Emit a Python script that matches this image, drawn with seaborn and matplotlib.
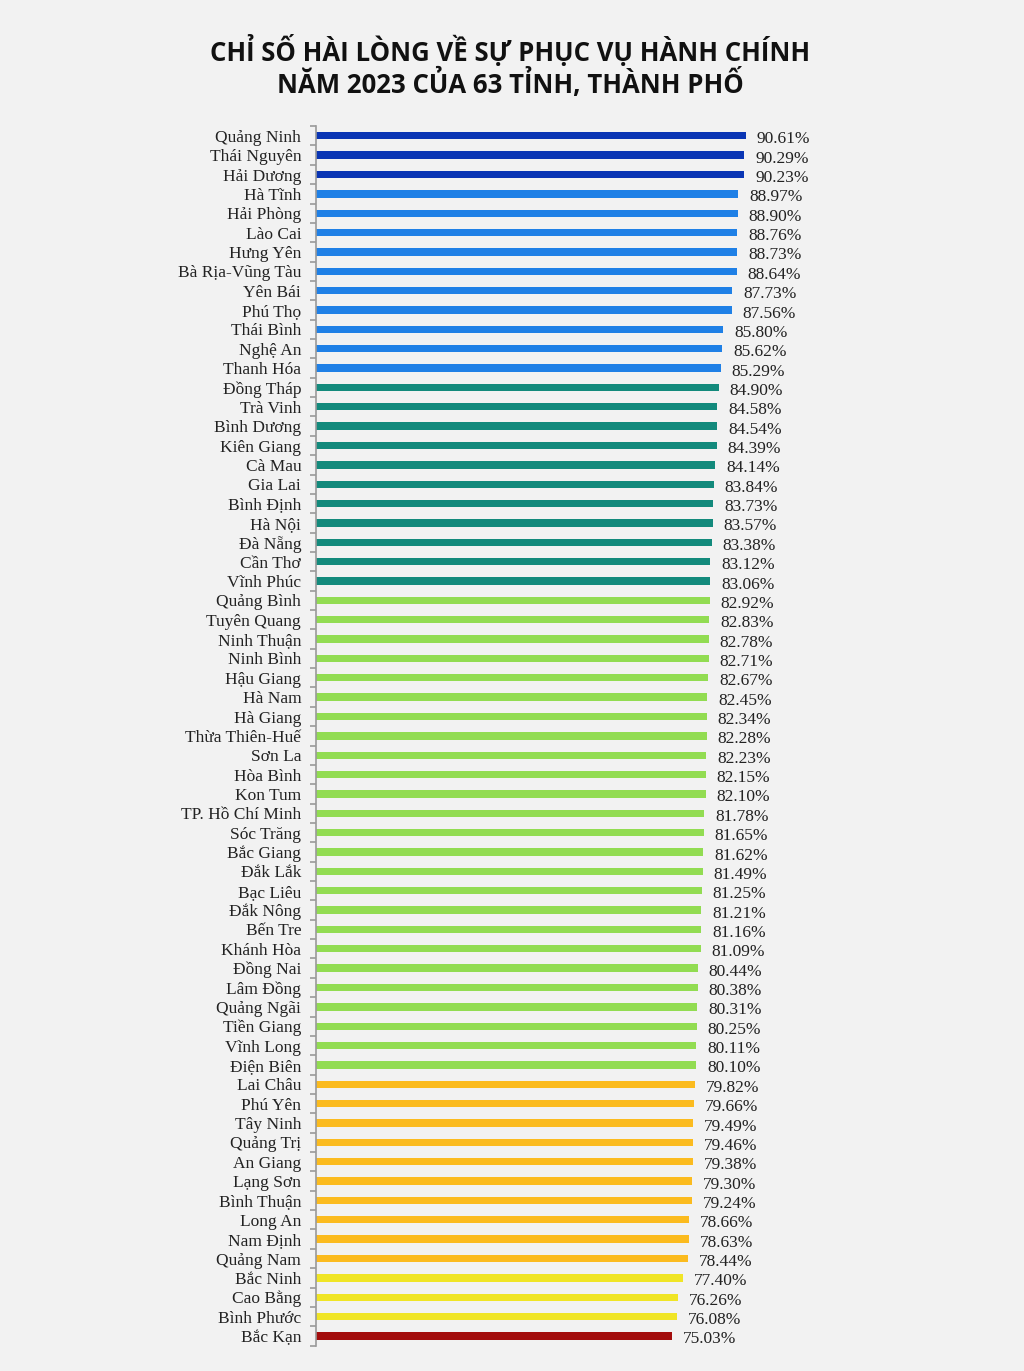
import matplotlib
matplotlib.use("Agg")
import matplotlib.pyplot as plt
import seaborn as sns
import pandas as pd
import numpy as np

provinces = [
    "Quảng Ninh", "Thái Nguyên", "Hải Dương", "Hà Tĩnh", "Hải Phòng", "Lào Cai",
    "Hưng Yên", "Bà Rịa-Vũng Tàu", "Yên Bái", "Phú Thọ", "Thái Bình", "Nghệ An",
    "Thanh Hóa", "Đồng Tháp", "Trà Vinh", "Bình Dương", "Kiên Giang", "Cà Mau",
    "Gia Lai", "Bình Định", "Hà Nội", "Đà Nẵng", "Cần Thơ", "Vĩnh Phúc",
    "Quảng Bình", "Tuyên Quang", "Ninh Thuận", "Ninh Bình", "Hậu Giang", "Hà Nam",
    "Hà Giang", "Thừa Thiên-Huế", "Sơn La", "Hòa Bình", "Kon Tum", "TP. Hồ Chí Minh",
    "Sóc Trăng", "Bắc Giang", "Đắk Lắk", "Bạc Liêu", "Đắk Nông", "Bến Tre",
    "Khánh Hòa", "Đồng Nai", "Lâm Đồng", "Quảng Ngãi", "Tiền Giang", "Vĩnh Long",
    "Điện Biên", "Lai Châu", "Phú Yên", "Tây Ninh", "Quảng Trị", "An Giang",
    "Lạng Sơn", "Bình Thuận", "Long An", "Nam Định", "Quảng Nam", "Bắc Ninh",
    "Cao Bằng", "Bình Phước", "Bắc Kạn",
]

scores = [
    90.61, 90.29, 90.23, 88.97, 88.90, 88.76,
    88.73, 88.64, 87.73, 87.56, 85.80, 85.62,
    85.29, 84.90, 84.58, 84.54, 84.39, 84.14,
    83.84, 83.73, 83.57, 83.38, 83.12, 83.06,
    82.92, 82.83, 82.78, 82.71, 82.67, 82.45,
    82.34, 82.28, 82.23, 82.15, 82.10, 81.78,
    81.65, 81.62, 81.49, 81.25, 81.21, 81.16,
    81.09, 80.44, 80.38, 80.31, 80.25, 80.11,
    80.10, 79.82, 79.66, 79.49, 79.46, 79.38,
    79.30, 79.24, 78.66, 78.63, 78.44, 77.40,
    76.26, 76.08, 75.03,
]

# colour band of each bar, in order from top
group_sizes = [3, 10, 11, 25, 10, 3, 1]
group_colors = ["#0a35b4", "#1f80e6", "#138a7c", "#92dc52", "#fbbb1f", "#f0e526", "#a30d0d"]

groups = np.repeat(range(len(group_sizes)), group_sizes)
df = pd.DataFrame({"province": provinces, "score": scores, "group": groups})
palette = {i: c for i, c in enumerate(group_colors)}

bg = "#f2f2f2"
fig = plt.figure(figsize=(10.24, 13.71), dpi=100, facecolor=bg)
ax = fig.add_axes([0.309, 0.0185, 0.463, 0.8895])
ax.set_facecolor(bg)

sns.barplot(data=df, x="score", y="province", hue="group", palette=palette,
            dodge=False, width=0.38, legend=False, saturation=1, ax=ax)

serif = ["Liberation Serif", "DejaVu Serif"]
for i, v in enumerate(scores):
    ax.text(v + 2.3, i + 0.18, f"{v:.2f}%", va="center", ha="left",
            fontsize=12.5, family=serif, color="#222222")

ax.set_xlim(0, 100)
ax.set_ylim(len(provinces) - 0.5, -0.5)
ax.set_xlabel("")
ax.set_ylabel("")
ax.set_xticks([])
for side in ["top", "right", "bottom"]:
    ax.spines[side].set_visible(False)
ax.spines["left"].set_color("#9a9a9a")
ax.spines["left"].set_linewidth(1.2)
ax.tick_params(axis="y", which="major", length=0, pad=11)
ax.set_yticks(np.arange(-0.5, len(provinces), 1.0), minor=True)
ax.tick_params(axis="y", which="minor", length=4, color="#9a9a9a", width=1.2)
for lbl in ax.get_yticklabels():
    lbl.set_fontfamily(serif)
    lbl.set_fontsize(12.5)
    lbl.set_color("#222222")

fig.text(0.498, 0.951, "CHỈ SỐ HÀI LÒNG VỀ SỰ PHỤC VỤ HÀNH CHÍNH\nNĂM 2023 CỦA 63 TỈNH, THÀNH PHỐ",
         ha="center", va="center", fontsize=18.5, fontweight="bold",
         family=["Open Sans", "DejaVu Sans"], color="#111111", linespacing=1.05)

fig.savefig("out.png", dpi=100, facecolor=bg)
